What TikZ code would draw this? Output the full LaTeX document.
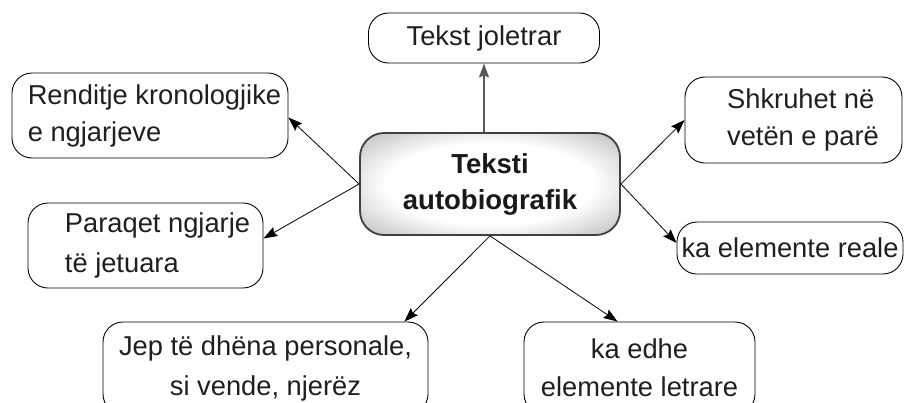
\documentclass[tikz,border=0pt]{standalone}
\usepackage{fontspec}
\setmainfont{Liberation Sans}
\usetikzlibrary{arrows.meta,calc}
\pgfdeclareradialshading{cglow}{\pgfpoint{0bp}{0bp}}{color(0bp)=(white); color(20bp)=(white); color(33bp)=(black!22); color(44bp)=(black!52); color(50bp)=(black!68); color(72bp)=(black!75)}
\begin{document}
\begin{tikzpicture}[x=1pt,y=-1pt,
  box/.style={draw=black, line width=0.9pt, rounded corners=20pt, inner sep=0pt,
    font=\fontsize{27.3}{37}\selectfont, text=black!88},
  hub/.style={draw=black!75, line width=1.8pt, rounded corners=24pt, inner sep=0pt,
    shading=cglow, font=\fontsize{27.5}{36}\selectfont\bfseries, text=black!90},
  arr/.style={-{Stealth[length=14pt,width=10pt,inset=2pt]}, line width=0.8pt, black},
  arrg/.style={-{Stealth[length=14pt,width=10pt,inset=2pt]}, line width=1.6pt, black!65}
]
\useasboundingbox (0,0) rectangle (904,402);
\clip (0,0) rectangle (904,402);
\fill[white] (0,0) rectangle (904,402);

\node[hub, minimum width=260pt, minimum height=102pt, align=center] (C) at (490,184) {Teksti\\autobiografik};

\node[box, minimum width=231pt, minimum height=50pt] (T) at (484,38) {Tekst joletrar};

\node[box, minimum width=276pt, minimum height=85pt, align=left] (L1) at (150,115.5)
  {\hspace*{9pt}Renditje kronologjike\\\hspace*{9pt}e ngjarjeve};

\node[box, minimum width=235pt, minimum height=85pt, align=left, font=\fontsize{27.3}{40}\selectfont] (L2) at (145.5,245.5)
  {\hspace*{24pt}Paraqet ngjarje\\\hspace*{24pt}të jetuara};

\node[box, minimum width=217pt, minimum height=86pt, align=left] (R1) at (793.5,120)
  {\hspace*{19pt}Shkruhet në\\\hspace*{19pt}vetën e parë};

\node[box, minimum width=226pt, minimum height=52pt] (R2) at (790,248) {ka elemente reale};

\node[box, minimum width=325pt, minimum height=92pt, align=center, font=\fontsize{27.3}{40}\selectfont] (BL) at (265.5,368)
  {Jep të dhëna personale,\\si vende, njerëz};

\node[box, minimum width=231pt, minimum height=92pt, align=center, font=\fontsize{27.3}{38}\selectfont] (BR) at (639.5,368)
  {ka edhe\\elemente letrare};

\draw[arrg] (C.north -| T.south) -- (T.south);
\draw[arr] (C.west) -- ([yshift=-2pt]L1.east);
\draw[arr] (C.west) -- ([yshift=7pt]L2.east);
\draw[arr] (C.east) -- (R1.west);
\draw[arr] (C.east) -- ([yshift=5pt]R2.west);
\draw[arr] (C.south) -- ($(BL.north east)+(-24,0)$);
\draw[arr] (C.south) -- ($(BR.north west)+(94,0)$);
\end{tikzpicture}
\end{document}
